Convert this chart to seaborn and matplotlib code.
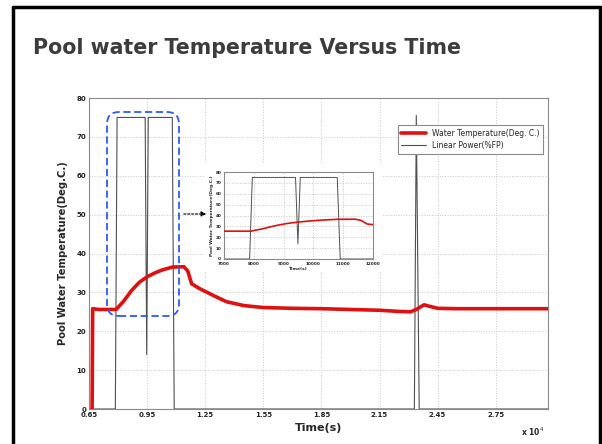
import numpy as np
import pandas as pd
import matplotlib; matplotlib.use("Agg")
import matplotlib.pyplot as plt
import seaborn as sns
from matplotlib.patches import FancyBboxPatch, FancyArrowPatch, Rectangle
from matplotlib.lines import Line2D

# Water temperature (Deg. C.) vs time (s)
temp_t = [6660, 6690, 7000, 7900, 8300, 8700, 9100, 9500, 9900, 10300, 10800,
          11400, 11600, 11800, 12200, 13000, 13600, 14500, 15500, 17000, 18500,
          20000, 21500, 22500, 23100, 23400, 23800, 24100, 24500, 25500, 27500, 30200]
temp_v = [0.0, 25.8, 25.6, 25.6, 27.8, 30.5, 32.6, 34.0, 35.0, 35.8, 36.5,
          36.6, 35.5, 32.2, 31.0, 29.0, 27.6, 26.6, 26.1, 25.9, 25.8,
          25.6, 25.4, 25.1, 25.0, 25.6, 26.8, 26.4, 25.9, 25.8, 25.8, 25.8]

# Linear power (%FP) vs time (s)
power_t = [6500, 7860, 7950, 9400, 9480, 9560, 10800, 10900, 23300, 23400, 23550, 30200]
power_v = [0.0, 0.0, 75.0, 75.0, 14.0, 75.0, 75.0, 0.0, 0.0, 75.5, 0.0, 0.0]

x_ticks = [6500, 9500, 12500, 15500, 18500, 21500, 24500, 27500]
x_labels = ["0.65", "0.95", "1.25", "1.55", "1.85", "2.15", "2.45", "2.75"]
y_ticks = [0, 10, 20, 30, 40, 50, 60, 70, 80]
inset_x_ticks = [7000, 8000, 9000, 10000, 11000, 12000]

TITLE = "Pool water Temperature Versus Time"
YLABEL = "Pool Water Temperature(Deg.C.)"
RED = "#e01010"
GRAY = "#505050"

temp = pd.DataFrame({"t": temp_t, "v": temp_v})
power = pd.DataFrame({"t": power_t, "v": power_v})

sns.set_style("white")
plt.rcParams["font.family"] = ["DejaVu Sans"]

fig = plt.figure(figsize=(6.02, 4.44), dpi=100)

# slide frame
for xs, ys in [([13/602, 13/602], [0, 1 - 7/444]),
               ([13/602, 600/602], [1 - 7/444, 1 - 7/444]),
               ([600/602, 600/602], [1 - 7/444, 0])]:
    fig.add_artist(Line2D(xs, ys, color="black", lw=2.5, transform=fig.transFigure))

fig.text(33/602, 1 - 48/444, TITLE, fontsize=14.8, fontweight="bold",
         color="#3c3c3c", va="center", ha="left")


def style_axes(ax, fs):
    ax.grid(True, color="#c8c8c8", ls=":", lw=0.7)
    for s in ax.spines.values():
        s.set_color("#8a8a8a")
        s.set_linewidth(0.8)
    ax.tick_params(direction="in", length=2, width=0.5, colors="#8a8a8a",
                   labelcolor="#222222", labelsize=fs, pad=2)
    for lab in ax.get_xticklabels() + ax.get_yticklabels():
        lab.set_fontweight("bold")


ax = fig.add_axes([89/602, 35/444, 459/602, 311/444])
sns.lineplot(data=temp, x="t", y="v", ax=ax, color=RED, lw=2.6,
             label="Water Temperature(Deg. C.)", zorder=3)
sns.lineplot(data=power, x="t", y="v", ax=ax, color=GRAY, lw=0.8,
             label="Linear Power(%FP)", zorder=2)
ax.set_xlim(6500, 30200)
ax.set_ylim(0, 80)
ax.set_xticks(x_ticks)
ax.set_xticklabels(x_labels)
ax.set_yticks(y_ticks)
style_axes(ax, 5)
ax.set_xlabel("Time(s)", fontsize=8, fontweight="bold", labelpad=4)
ax.set_ylabel(YLABEL, fontsize=7.2, fontweight="bold", labelpad=6)
leg = ax.legend(loc="upper right", bbox_to_anchor=(0.998, 0.926), fontsize=5.5,
                fancybox=False, edgecolor="#8a8a8a", framealpha=1,
                handlelength=3.2, borderpad=0.5, labelspacing=0.4)
leg.get_frame().set_linewidth(0.8)
fig.text(533/602, 1 - 432/444, r"x 10$^4$", fontsize=5.5, fontweight="bold",
         ha="center", va="center")

# inset background (pasted picture) + inset axes
fig.add_artist(Rectangle((205/602, 1 - 272/444), 178/602, 108/444,
                         transform=fig.transFigure, facecolor="white",
                         edgecolor="none", zorder=1))
axi = fig.add_axes([224/602, 185/444, 149/602, 87/444], zorder=2)
sns.lineplot(data=temp, x="t", y="v", ax=axi, color=RED, lw=1.2, zorder=3)
sns.lineplot(data=power, x="t", y="v", ax=axi, color=GRAY, lw=0.7, zorder=2)
axi.set_xlim(7000, 12000)
axi.set_ylim(0, 80)
axi.set_xticks(inset_x_ticks)
axi.set_yticks(y_ticks)
style_axes(axi, 3)
axi.set_xlabel("Time(s)", fontsize=3.2, fontweight="bold", labelpad=1)
axi.set_ylabel(YLABEL, fontsize=3.2, fontweight="bold", labelpad=1)

# dashed highlight box and arrow
fig.add_artist(FancyBboxPatch((1.07, 1.28), 0.72, 2.04,
                              boxstyle="round,pad=0,rounding_size=0.12",
                              transform=fig.dpi_scale_trans, facecolor="none",
                              edgecolor="#2f5cf0", lw=1.3, ls=(0, (4, 2)), zorder=5))
fig.add_artist(FancyArrowPatch((1.81, 2.30), (2.09, 2.30), transform=fig.dpi_scale_trans,
                               arrowstyle="-|>", mutation_scale=7, color="black",
                               lw=0.8, ls=(0, (2, 1.5)), zorder=5))

fig.savefig("out.png", dpi=100)
